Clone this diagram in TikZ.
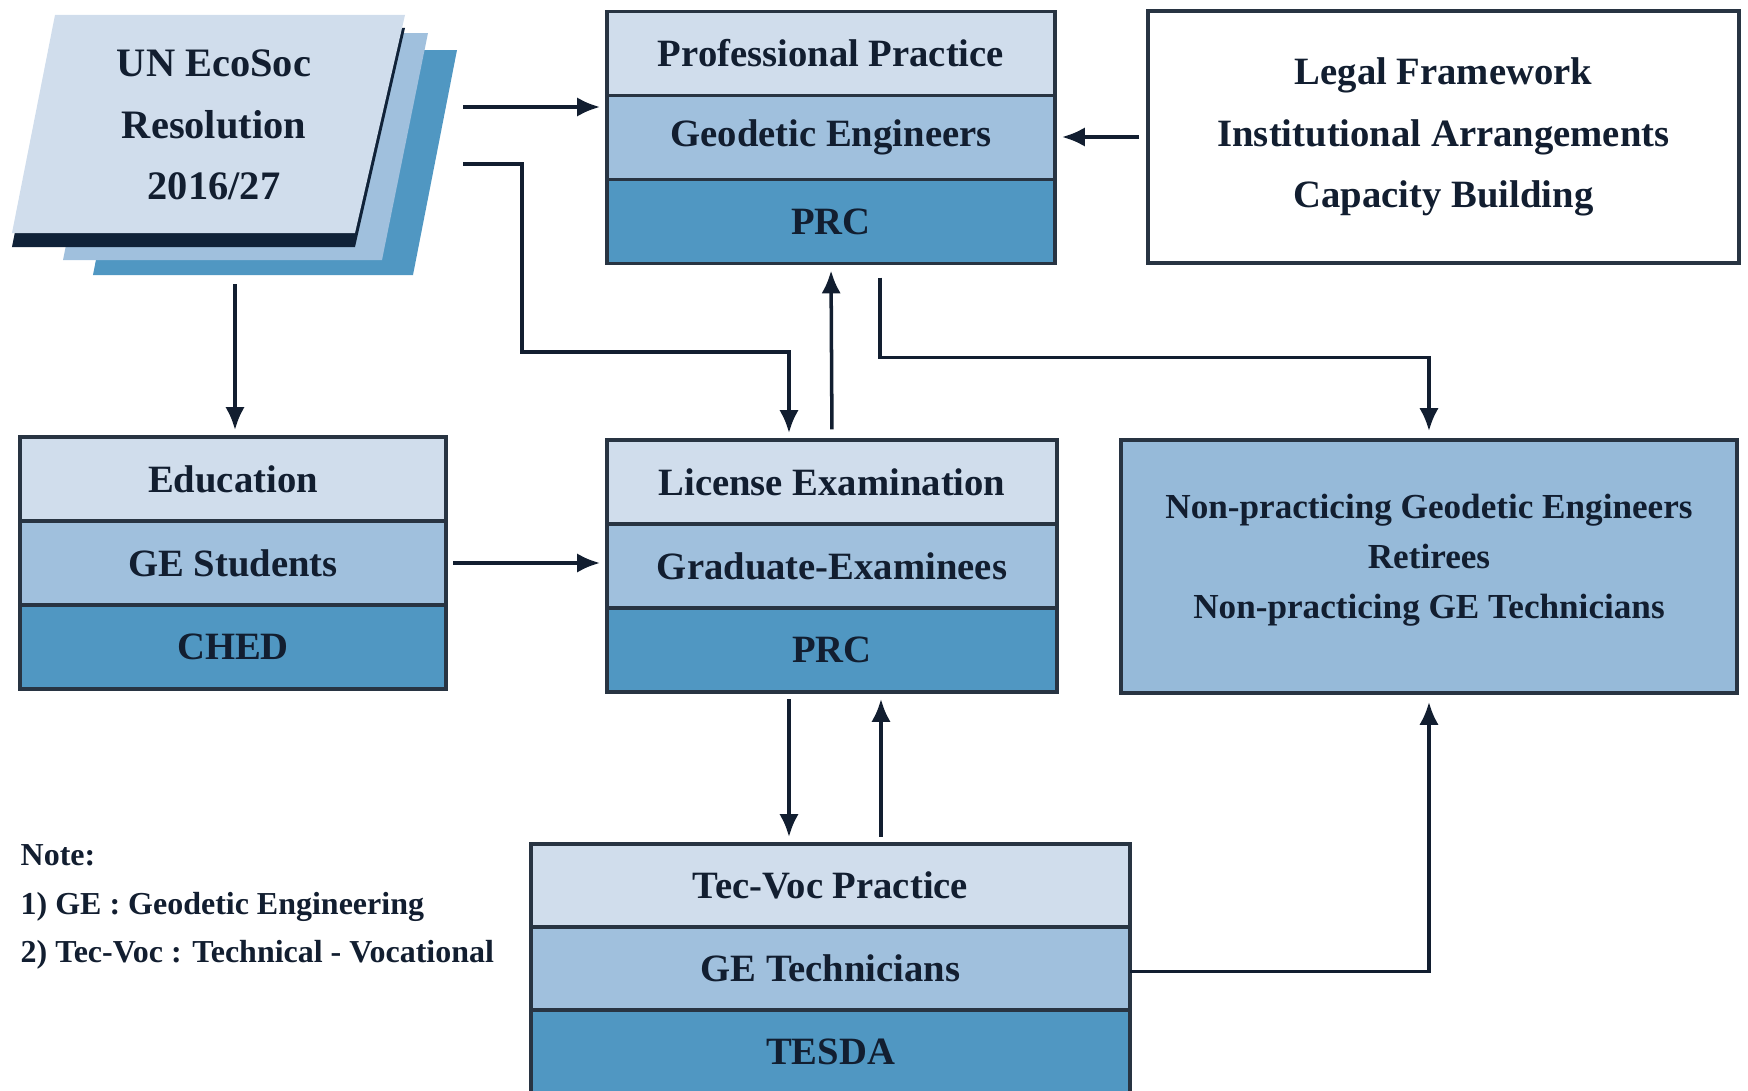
\documentclass[tikz,border=0pt]{standalone}
\usepackage{fontspec}
\setmainfont{Liberation Serif}
\usetikzlibrary{arrows.meta,positioning}
\definecolor{rowlight}{RGB}{208,221,236}
\definecolor{rowmid}{RGB}{160,192,221}
\definecolor{rowdark}{RGB}{80,151,194}
\definecolor{npfill}{RGB}{150,186,217}
\definecolor{edge}{RGB}{40,52,66}
\definecolor{ink}{RGB}{18,30,48}
\definecolor{sheetband}{RGB}{16,34,56}

\begin{document}
\begin{tikzpicture}[
	font=\fontsize{11}{13}\selectfont\bfseries,
	row/.style={draw=edge,line width=1.1pt,text=ink,minimum height=0.84cm,inner sep=0pt,outer sep=0pt},
	rowtop/.style={row,fill=rowlight},
	rowmiddle/.style={row,fill=rowmid},
	rowbottom/.style={row,fill=rowdark},
	arr/.style={-{Latex[length=6.5pt,width=5.5pt]},line width=1pt,draw=ink,shorten >=2pt}
]
	\useasboundingbox (0,0) rectangle (17.48,-10.91);

	% resolution document (three sheets)
	\fill[rowdark] (1.37,-0.50) -- (4.57,-0.50) -- (4.13,-2.75) -- (0.93,-2.75) -- cycle;
	\fill[rowmid] (1.09,-0.33) -- (4.28,-0.33) -- (3.82,-2.60) -- (0.63,-2.60) -- cycle;
	\fill[sheetband] (0.55,-0.28) -- (4.05,-0.28) -- (3.55,-2.47) -- (0.12,-2.47) -- cycle;
	\fill[rowlight] (0.55,-0.15) -- (4.05,-0.15) -- (3.55,-2.33) -- (0.12,-2.33) -- cycle;
	\node[text=ink,align=center,font=\fontsize{11.5}{17.5}\selectfont\bfseries] (un) at (2.14,-1.25) {UN EcoSoc\\Resolution\\2016/27};
	\coordinate (unout1) at (4.63,-1.07);
	\coordinate (unout2) at (4.63,-1.64);
	\coordinate (undown) at (2.35,-2.84);

	% professional practice
	\node[rowtop,minimum width=4.48cm] (pp1) at (8.31,-0.535) {Professional Practice};
	\node[rowmiddle,minimum width=4.48cm,below=0pt of pp1] (pp2) {Geodetic Engineers};
	\node[rowbottom,minimum width=4.48cm,below=0pt of pp2] (pp3) {PRC};

	\node[draw=edge,line width=1.1pt,fill=white,text=ink,minimum width=5.91cm,minimum height=2.52cm,align=center,font=\fontsize{11}{17.4}\selectfont\bfseries] (legal) at (14.435,-1.37) {Legal Framework\\Institutional Arrangements\\Capacity Building};

	% education
	\node[rowtop,minimum width=4.26cm] (edu1) at (2.33,-4.79) {Education};
	\node[rowmiddle,minimum width=4.26cm,below=0pt of edu1] (edu2) {GE Students};
	\node[rowbottom,minimum width=4.26cm,below=0pt of edu2] (edu3) {CHED};

	% license examination
	\node[rowtop,minimum width=4.50cm] (lic1) at (8.32,-4.82) {License Examination};
	\node[rowmiddle,minimum width=4.50cm,below=0pt of lic1] (lic2) {Graduate-Examinees};
	\node[rowbottom,minimum width=4.50cm,below=0pt of lic2] (lic3) {PRC};

	\node[draw=edge,line width=1.1pt,fill=npfill,text=ink,minimum width=6.16cm,minimum height=2.53cm,align=center,font=\fontsize{10}{14.2}\selectfont\bfseries] (np) at (14.29,-5.665) {\raisebox{0pt}[\height][\dimexpr\depth+1.6mm\relax]{\begin{tabular}{@{}c@{}}Non-practicing Geodetic Engineers\\Retirees\\Non-practicing GE Technicians\end{tabular}}};

	% tec-voc practice
	\node[rowtop,minimum width=5.99cm,minimum height=0.83cm] (tv1) at (8.305,-8.855) {Tec-Voc Practice};
	\node[rowmiddle,minimum width=5.99cm,minimum height=0.83cm,below=0pt of tv1] (tv2) {GE Technicians};
	\node[rowbottom,minimum width=5.99cm,minimum height=0.83cm,below=0pt of tv2] (tv3) {TESDA};

	\node[text=ink,anchor=west,align=left,inner sep=0pt,font=\fontsize{9.1}{13.7}\selectfont\bfseries] (note) at (0.2,-9.07) {Note:\\1) GE : Geodetic Engineering\\2) Tec-Voc : Technical - Vocational};

	% connectors
	\draw[arr] (unout1) -- (unout1 -| pp2.west);
	\draw[arr] (undown) -- (undown |- edu1.north);
	\draw[arr,shorten <=2pt] (legal.west) -- (legal.west -| pp2.east);
	\draw[arr] (unout2) -- ++(0.59,0) |- ([xshift=-4.3mm,yshift=8.8mm]lic1.north) -- ([xshift=-4.3mm]lic1.north);
	\draw[arr,shorten <=3pt] (lic1.north) -- (pp3.south);
	\draw[arr,shorten <=4pt] ([xshift=4.9mm]pp3.south) -- ++(0,-0.94) -| (np.north);
	\draw[arr,shorten <=2pt] ([xshift=-4.3mm]lic3.south) -- ([xshift=-4.3mm]lic3.south |- tv1.north);
	\draw[arr,shorten <=2pt] ([xshift=4.9mm]lic3.south |- tv1.north) -- ([xshift=4.9mm]lic3.south);
	\draw[arr] ([yshift=-0.3mm]tv2.east) -| (np.south);
	\draw[arr,shorten <=2pt] (edu2.east) -- (edu2.east -| lic2.west);
\end{tikzpicture}
\end{document}
